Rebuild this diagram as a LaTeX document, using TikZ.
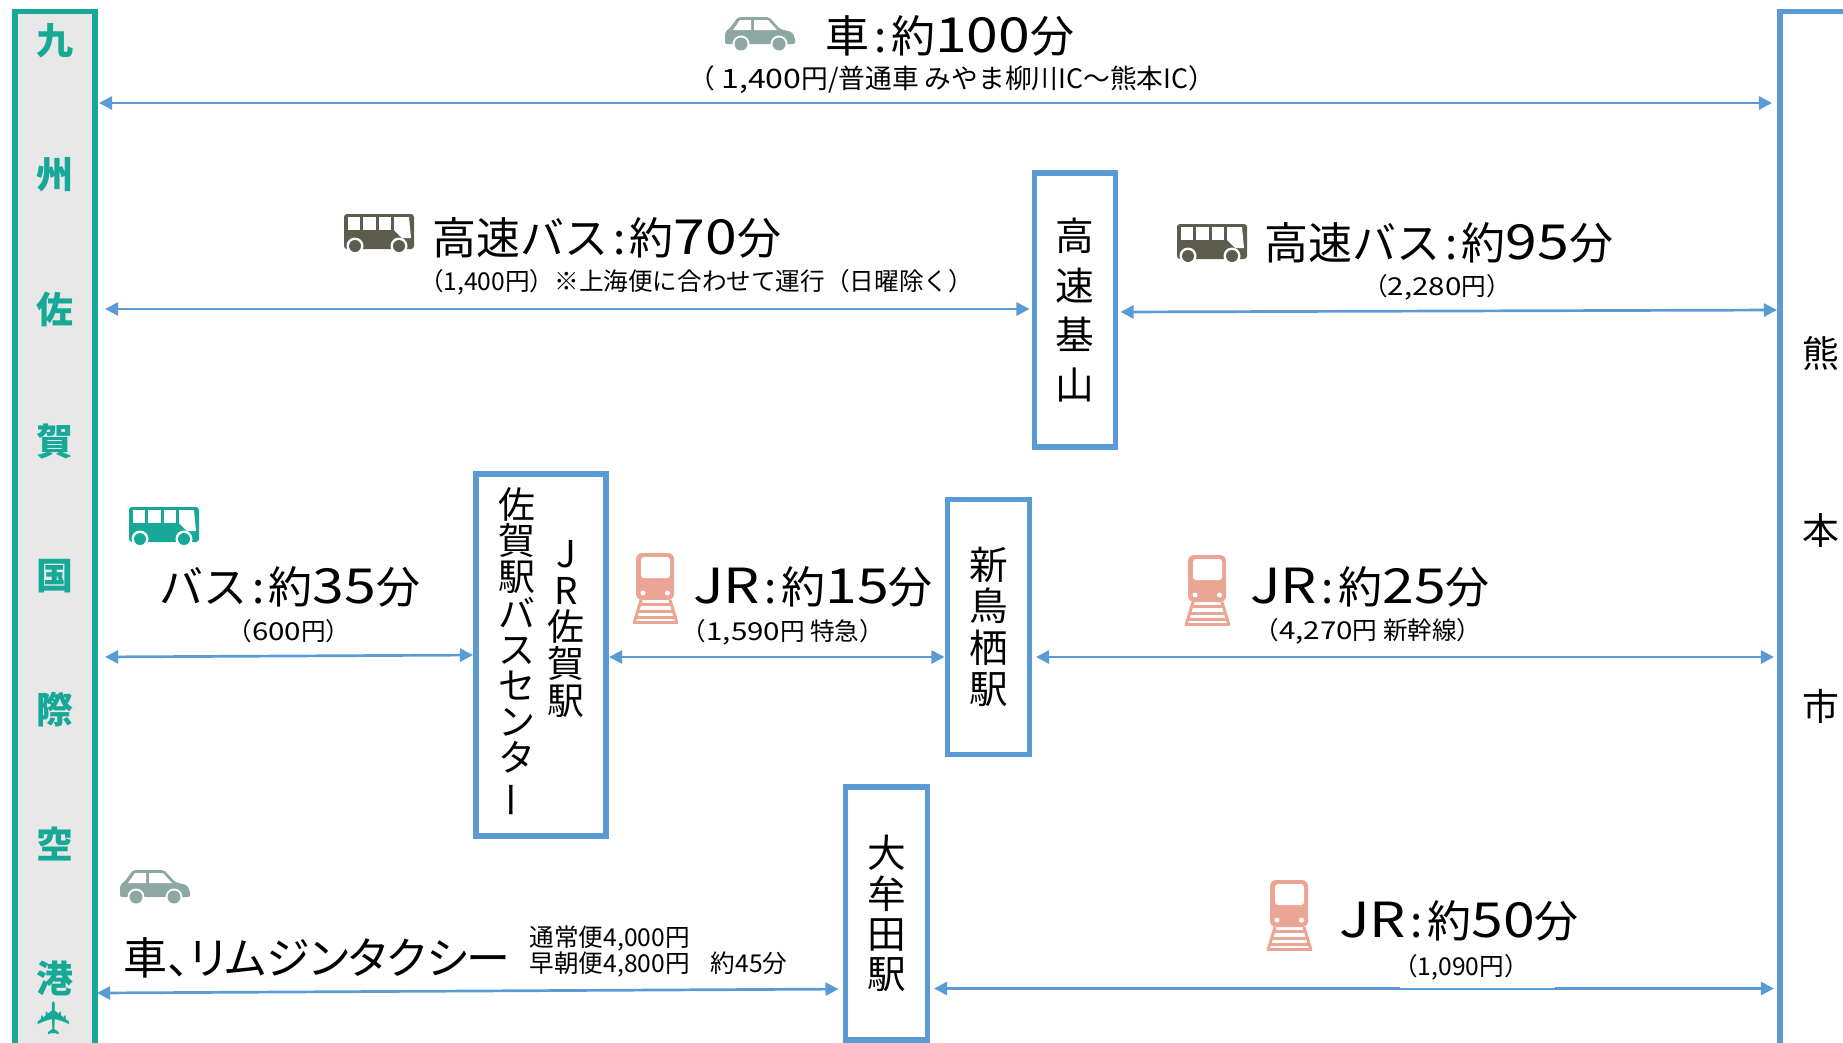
\documentclass[tikz,border=0pt]{standalone}
\usepackage{graphicx}
\usepackage{fontspec}
\setmainfont{Noto Sans CJK JP}
\newfontfamily\paltfont{Noto Sans CJK JP}[RawFeature=+palt]
\newfontfamily\planefont{DejaVu Sans}
\usetikzlibrary{arrows.meta}
\definecolor{tealc}{HTML}{17A998}
\definecolor{bluec}{HTML}{5B9BD5}
\definecolor{carc}{HTML}{8DA7A3}
\definecolor{busc}{HTML}{5C5D4C}
\definecolor{trainc}{HTML}{EBA595}
\tikzset{
	link/.style={draw=bluec, line width=0.27mm, {Triangle[length=1.3mm,width=1.3mm]}-{Triangle[length=1.3mm,width=1.3mm]}},
	stopbox/.style={draw=bluec, line width=0.55mm, fill=white, outer sep=0, inner sep=0, align=center},
	bigtext/.style={font=\fontsize{12.5}{14}\selectfont},
	smalltext/.style={font=\fontsize{7}{8}\selectfont},
	sidetext/.style={font=\bfseries\fontsize{10.5}{12}\selectfont, text=tealc},
	citytext/.style={font=\fontsize{10.5}{12}\selectfont}
}
\def\wide#1{\scalebox{1.3}[1.1]{#1}}
\def\swide#1{\scalebox{1.2}[1]{#1}}
\def\kolon{\kern1.3pt:\kern1.3pt}
\def\lp{\symbol{"FF08}}
\def\rp{\symbol{"FF09}}
\def\busicon(#1)#2{
	\begin{scope}[shift={(#1)}]
		\fill[#2, rounded corners=0.03cm] (0,0) rectangle (70,35);
		\fill[white] (4,3) rectangle (16,16);
		\fill[white] (19,3) rectangle (32,16);
		\fill[white] (35,3) rectangle (47,16);
		\fill[white] (50,3) -- (65,3) -- (67,24) -- (58,24) -- (50,16) -- cycle;
		\fill[white] (11,32) circle (8.5);
		\fill[white] (55,32) circle (8.5);
		\fill[#2] (11,32) circle (6);
		\fill[#2] (55,32) circle (6);
	\end{scope}
}
\def\caricon(#1)#2{
	\begin{scope}[shift={(#1)}]
		\fill[#2, rounded corners=0.02cm] (0,27) -- (0,15) -- (5,11) -- (13,0) -- (44,0) -- (55,12) -- (67,15) -- (70,21) -- (70,27) -- cycle;
		\fill[white] (15,3) -- (26,3) -- (26,13) -- (8,13) -- cycle;
		\fill[white] (29,3) -- (43,3) -- (52,13) -- (29,13) -- cycle;
		\fill[white] (16,27) circle (8.5);
		\fill[white] (54,27) circle (8.5);
		\fill[#2] (16,27) circle (6.5);
		\fill[#2] (54,27) circle (6.5);
	\end{scope}
}
\def\trainicon(#1)#2{
	\begin{scope}[shift={(#1)}]
		\fill[#2, rounded corners=0.06cm] (4,0) rectangle (42,47);
		\fill[white, rounded corners=0.03cm] (9,4) rectangle (38,25);
		\fill[white] (11,40) circle (2.5);
		\fill[white] (35.5,40) circle (2.5);
		\draw[#2, line width=0.3mm] (9,47) -- (2,70);
		\draw[#2, line width=0.3mm] (38,47) -- (45,70);
		\draw[#2, line width=0.3mm] (7,51) -- (40,51);
		\draw[#2, line width=0.3mm] (6,58) -- (41,58);
		\draw[#2, line width=0.3mm] (4,64) -- (43,64);
		\draw[#2, line width=0.3mm] (1,69.5) -- (46,69.5);
	\end{scope}
}

\begin{document}
\begin{tikzpicture}[x=0.01cm, y=-0.01cm]
	%%%%% START %%%%%
	\path[use as bounding box, clip] (0,0) rectangle (1843,1042);
	
	\node[draw=tealc, fill=black!9, line width=0.55mm, outer sep=0, minimum width=0.8cm, minimum height=10.88cm] (airport) at (55,556) {};
	\node[draw=bluec, line width=0.55mm, outer sep=0, minimum width=1.66cm, minimum height=10.88cm] (kumamoto) at (1863,556) {};
	
	\node[sidetext] (kyu) at (55,41) {九};
	\node[sidetext] (shu) at (55,175) {州};
	\node[sidetext] (sa) at (55,309) {佐};
	\node[sidetext] (ga) at (55,442) {賀};
	\node[sidetext] (koku) at (55,576) {国};
	\node[sidetext] (sai) at (55,710) {際};
	\node[sidetext] (ku) at (55,844) {空};
	\node[sidetext] (ko) at (55,978) {港};
	\node[text=tealc, font=\planefont\fontsize{13}{14}\selectfont, rotate=90] (plane) at (54,1018) {✈};
	
	\node[citytext] (kuma) at (1821,353) {熊};
	\node[citytext] (moto) at (1821,530) {本};
	\node[citytext] (shi) at (1821,706) {市};
	
	\node[stopbox, minimum width=0.81cm, minimum height=2.74cm, font=\fontsize{11}{14.1}\selectfont] (kiyama) at (1075,310) {高\\速\\基\\山};
	\node[stopbox, minimum width=0.82cm, minimum height=2.55cm, font=\fontsize{11}{11.7}\selectfont] (tosu) at (988.5,627) {新\\鳥\\栖\\駅};
	\node[stopbox, minimum width=0.82cm, minimum height=2.53cm, font=\fontsize{11}{11.4}\selectfont] (omuta) at (886.5,913.5) {大\\牟\\田\\駅};
	\node[stopbox, minimum width=1.3cm, minimum height=3.62cm] (saga) at (541,655) {};
	\node[align=center, inner sep=0, font=\fontsize{10.5}{10.3}\selectfont] (sagabus) at (517,653) {佐\\賀\\駅\\バ\\ス\\セ\\ン\\タ\\\rotatebox[origin=c]{90}{ー}};
	\node[align=center, inner sep=0, font=\fontsize{10.5}{10.4}\selectfont] (sagajr) at (566,629) {J\\R\\佐\\賀\\駅};
	
	\draw[link, shorten <=0.4mm, shorten >=0.8mm] (airport.east |- 0,103) -- (kumamoto.west |- 0,103);
	\draw[link, shorten <=1mm, shorten >=0.5mm] (airport.east |- 0,309) -- (kiyama.west |- 0,309);
	\draw[link, shorten <=0.5mm, shorten >=0.3mm] (kiyama.east |- 0,312) -- (kumamoto.west |- 0,310);
	\draw[link, shorten <=1mm, shorten >=0.3mm] (airport.east |- 0,657) -- (saga.west |- 0,655);
	\draw[link, shorten <=0.3mm, shorten >=0.3mm] (saga.east |- 0,657) -- (tosu.west |- 0,657);
	\draw[link, shorten <=0.65mm, shorten >=0.6mm] (tosu.east |- 0,657) -- (kumamoto.west |- 0,657);
	\draw[link, shorten <=0.2mm, shorten >=0.7mm] (airport.east |- 0,993) -- (omuta.west |- 0,989);
	\draw[link, shorten <=0.65mm, shorten >=0.6mm] (omuta.east |- 0,988.5) -- (kumamoto.west |- 0,988.5);
	\fill[white] (1400,985) rectangle (1555,988.2);
	
	\caricon(725,17){carc}
	\caricon(120,870){carc}
	\busicon(344,214){busc}
	\busicon(1177,224){busc}
	\busicon(129,507){tealc}
	\trainicon(632,553){trainc}
	\trainicon(1184,555){trainc}
	\trainicon(1266,880){trainc}
	
	\node[bigtext] (cartime) at (950,36) {車\kolon 約\wide{100}分};
	\node[smalltext, font=\fontsize{7.6}{8}\selectfont] (carfare) at (952,80) {\lp\ \swide{1,400}円/普通車 みやま柳川IC〜熊本IC\rp};
	\node[bigtext] (hwytime) at (607,238) {高速バス\kolon 約\wide{70}分};
	\node[smalltext] (hwyfare) at (696,282) {\lp 1,400円\rp ※上海便に合わせて運行\lp 日曜除く\rp};
	\node[bigtext] (hwyktime) at (1439,243) {高速バス\kolon 約\wide{95}分};
	\node[smalltext] (hwykfare) at (1437,287) {\lp\swide{2,280}円\rp};
	\node[bigtext] (bustime) at (290,587) {バス\kolon 約\wide{35}分};
	\node[smalltext] (busfare) at (289,631) {\lp\swide{600}円\rp};
	\node[bigtext] (jrtime) at (813,587) {\wide{JR}\kolon 約\wide{15}分};
	\node[smalltext] (jrfare) at (783,632) {\lp\swide{1,590}円 特急\rp};
	\node[bigtext] (jrktime) at (1370,587) {\wide{JR}\kolon 約\wide{25}分};
	\node[smalltext] (jrkfare) at (1368,631) {\lp\swide{4,270}円 新幹線\rp};
	\node[bigtext] (jrotime) at (1459,921) {\wide{JR}\kolon 約\wide{50}分};
	\node[smalltext] (jrofare) at (1461,967) {\lp 1,090円\rp};
	\node[bigtext, font=\paltfont\fontsize{12.5}{14}\selectfont] (limo) at (317,958) {車、リムジンタクシー};
	\node[smalltext, anchor=west, inner sep=0] (limoa) at (529,938) {通常便4,000円};
	\node[smalltext, anchor=west, inner sep=0] (limob) at (529,964) {早朝便4,800円\kern4.5pt\ 約45分};
	
	%%%%% END %%%%%
\end{tikzpicture}
\end{document}
